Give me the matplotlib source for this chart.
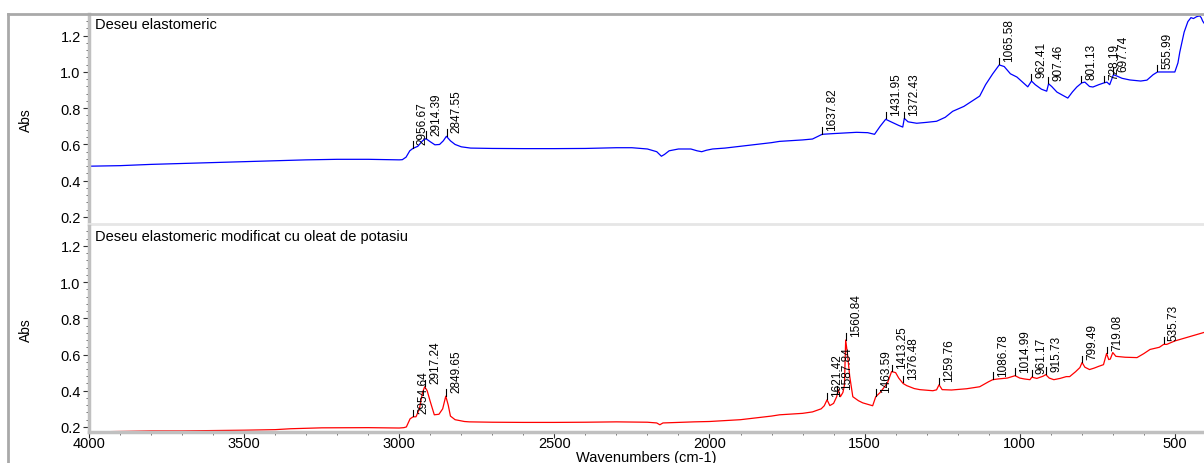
import numpy as np
import matplotlib
matplotlib.use("Agg")
import matplotlib.pyplot as plt
from matplotlib.ticker import MultipleLocator, FormatStrFormatter
from matplotlib.lines import Line2D

plt.rcParams["font.family"] = ["Liberation Sans", "DejaVu Sans"]

# spectrul 1 - deseu elastomeric
blue_wn = [4000, 3900, 3800, 3700, 3600, 3500, 3400, 3300, 3200, 3100, 3000,
           2990, 2978, 2966, 2956, 2940, 2925, 2914, 2900, 2885, 2870, 2858,
           2848, 2835, 2820, 2800, 2770, 2700, 2600, 2500, 2400, 2300, 2250,
           2200, 2170, 2155, 2145, 2130, 2100, 2060, 2040, 2025, 2010, 1990,
           1950, 1900, 1850, 1800, 1774, 1700, 1668, 1650, 1637, 1600, 1526,
           1490, 1468, 1450, 1432, 1415, 1390, 1377, 1372, 1360, 1332, 1300,
           1268, 1240, 1216, 1180, 1129, 1110, 1087, 1066, 1050, 1030, 1009,
           985, 974, 962, 950, 930, 913, 907, 897, 880, 860, 845, 830, 816,
           800, 790, 775, 764, 745, 728, 719, 710, 698, 690, 670, 645, 610,
           590, 570, 556, 520, 500, 490, 484, 470, 458, 448, 440, 430, 420,
           415, 410, 406]
blue_abs = [0.480, 0.483, 0.490, 0.495, 0.500, 0.505, 0.510, 0.515, 0.518, 0.518, 0.515,
            0.516, 0.530, 0.565, 0.578, 0.590, 0.620, 0.632, 0.615, 0.598, 0.600, 0.620,
            0.645, 0.620, 0.600, 0.587, 0.580, 0.578, 0.577, 0.577, 0.578, 0.582, 0.582,
            0.575, 0.560, 0.535, 0.545, 0.565, 0.575, 0.575, 0.565, 0.560, 0.568, 0.575,
            0.580, 0.590, 0.600, 0.610, 0.617, 0.625, 0.630, 0.645, 0.656, 0.660, 0.667,
            0.665, 0.656, 0.700, 0.739, 0.725, 0.705, 0.696, 0.744, 0.725, 0.717, 0.722,
            0.728, 0.750, 0.783, 0.810, 0.867, 0.930, 0.990, 1.039, 1.030, 0.990, 0.972,
            0.935, 0.918, 0.950, 0.930, 0.905, 0.894, 0.935, 0.920, 0.889, 0.870, 0.856, 0.890, 0.917,
            0.940, 0.944, 0.920, 0.917, 0.930, 0.940, 0.944, 0.930, 0.985, 0.980, 0.965, 0.956, 0.950,
            0.955, 0.985, 1.000, 1.000, 1.000, 1.050, 1.110, 1.220, 1.278, 1.300, 1.295, 1.305, 1.310,
            1.300, 1.280, 1.270]
blue_peaks = [2956.67, 2914.39, 2847.55, 1637.82, 1431.95, 1372.43, 1065.58,
              962.41, 907.46, 801.13, 728.19, 697.74, 555.99]

# spectrul 2 - deseu modificat cu oleat de potasiu
red_wn = [4000, 3900, 3800, 3700, 3600, 3500, 3400, 3350, 3250, 3100, 3000,
          2985, 2977, 2965, 2955, 2946, 2935, 2925, 2918, 2910, 2900, 2887,
          2872, 2860, 2850, 2842, 2835, 2820, 2790, 2774, 2700, 2600, 2500,
          2400, 2300, 2200, 2170, 2160, 2150, 2100, 2050, 2000, 1950, 1900,
          1850, 1800, 1774, 1700, 1668, 1640, 1630, 1621, 1612, 1600, 1590,
          1585, 1578, 1570, 1565, 1561, 1555, 1548, 1538, 1520, 1506, 1474,
          1464, 1450, 1426, 1413, 1400, 1390, 1376, 1364, 1340, 1322, 1280,
          1268, 1260, 1250, 1220, 1171, 1129, 1100, 1087, 1070, 1040, 1015,
          1000, 985, 967, 961, 945, 925, 916, 905, 890, 870, 850, 839, 820,
          806, 799, 790, 775, 760, 745, 730, 720, 713, 708, 700, 690, 660,
          622, 600, 580, 550, 536, 526, 500, 484, 450, 420, 406]
red_abs = [0.172, 0.175, 0.178, 0.178, 0.180, 0.182, 0.185, 0.190, 0.195, 0.196, 0.194,
           0.196, 0.200, 0.245, 0.256, 0.256, 0.300, 0.390, 0.422, 0.400, 0.340, 0.267,
           0.270, 0.300, 0.370, 0.320, 0.260, 0.240, 0.230, 0.228, 0.226, 0.225, 0.225,
           0.226, 0.228, 0.226, 0.222, 0.212, 0.222, 0.225, 0.228, 0.230, 0.235, 0.240,
           0.250, 0.260, 0.267, 0.275, 0.283, 0.300, 0.317, 0.350, 0.318, 0.330, 0.367,
           0.406, 0.367, 0.390, 0.430, 0.680, 0.600, 0.480, 0.367, 0.345, 0.333, 0.317,
           0.367, 0.390, 0.444, 0.506, 0.500, 0.470, 0.440, 0.428, 0.412, 0.406, 0.400,
           0.405, 0.433, 0.406, 0.404, 0.411, 0.422, 0.450, 0.461, 0.465, 0.470, 0.483,
           0.470, 0.465, 0.461, 0.475, 0.468, 0.480, 0.489, 0.470, 0.461, 0.468, 0.478, 0.478, 0.505,
           0.528, 0.556, 0.530, 0.517, 0.525, 0.535, 0.544, 0.606, 0.572, 0.575, 0.611, 0.590, 0.585,
           0.583, 0.605, 0.628, 0.640, 0.656, 0.656, 0.675, 0.683, 0.700, 0.715, 0.722]
red_peaks = [2954.64, 2917.24, 2849.65, 1621.42, 1587.84, 1560.84, 1463.59,
             1413.25, 1376.48, 1259.76, 1086.78, 1014.99, 961.17, 915.73,
             799.49, 719.08, 535.73]

titles = ["Deseu elastomeric", "Deseu elastomeric modificat cu oleat de potasiu"]

W, H = 1204, 464
fig = plt.figure(figsize=(W / 100, H / 100), dpi=100)
ax1 = fig.add_axes([89 / W, 1 - 225 / H, 1 - 89 / W, 210 / H])
ax2 = fig.add_axes([89 / W, 1 - 433 / H, 1 - 89 / W, 206 / H])

panels = [(ax1, blue_wn, blue_abs, blue_peaks, "#0000ff", (0.161, 1.32)),
          (ax2, red_wn, red_abs, red_peaks, "#ff0000", (0.172, 1.31))]

for i, (ax, wn, ab, peaks, col, ylim) in enumerate(panels):
    ax.plot(wn, ab, color=col, lw=0.9)
    ax.set_xlim(4000, 406)
    ax.set_ylim(*ylim)

    # etichete de varf
    xs = np.array(wn[::-1], dtype=float)
    ys = np.array(ab[::-1], dtype=float)
    for p in peaks:
        yp = np.interp(p, xs, ys)
        ax.plot([p, p], [yp + 0.005, yp + 0.04], color="black", lw=0.8)
        ax.annotate(f"{p:.2f}", xy=(p, yp), xytext=(3, 3), textcoords="offset points",
                    rotation=90, ha="left", va="bottom", fontsize=8.5, color="black")

    ax.text(0.0055, 0.985, titles[i], transform=ax.transAxes, ha="left", va="top",
            fontsize=10.5)
    ax.set_ylabel("Abs", fontsize=10, labelpad=20)
    ax.yaxis.set_major_locator(MultipleLocator(0.2))
    ax.yaxis.set_minor_locator(MultipleLocator(0.04))
    ax.xaxis.set_major_locator(MultipleLocator(500))
    ax.xaxis.set_minor_locator(MultipleLocator(100))
    ax.tick_params(axis="y", which="major", length=4, width=0.8, labelsize=10.5,
                   color="#333333", pad=2)
    ax.tick_params(axis="y", which="minor", length=2, width=0.6, color="#555555")
    ax.spines["top"].set_visible(False)
    ax.spines["right"].set_visible(False)
    ax.spines["left"].set_color("#c0c0c0")
    ax.spines["left"].set_linewidth(2.5)
    ax.yaxis.set_major_formatter(FormatStrFormatter("%.1f"))

ax1.spines["bottom"].set_color("#e6e6e6")
ax1.spines["bottom"].set_linewidth(2)
ax1.tick_params(axis="x", which="both", bottom=False, labelbottom=False)

ax2.spines["bottom"].set_color("#c0c0c0")
ax2.spines["bottom"].set_linewidth(2.5)
ax2.tick_params(axis="x", which="major", length=4, width=0.8, labelsize=10.5,
                color="#333333", pad=-1)
ax2.tick_params(axis="x", which="minor", length=2, width=0.6, color="#555555")
ax2.set_xlabel("Wavenumbers (cm-1)", fontsize=10.5, labelpad=0)

# rama exterioara
fig.add_artist(Line2D([8 / W, 8 / W], [0, 1 - 15 / H], color="#a9a9a9", lw=2,
                      transform=fig.transFigure))
fig.add_artist(Line2D([8 / W, 1], [1 - 15 / H, 1 - 15 / H], color="#a9a9a9", lw=2,
                      transform=fig.transFigure))

fig.savefig("out.png", dpi=100)
